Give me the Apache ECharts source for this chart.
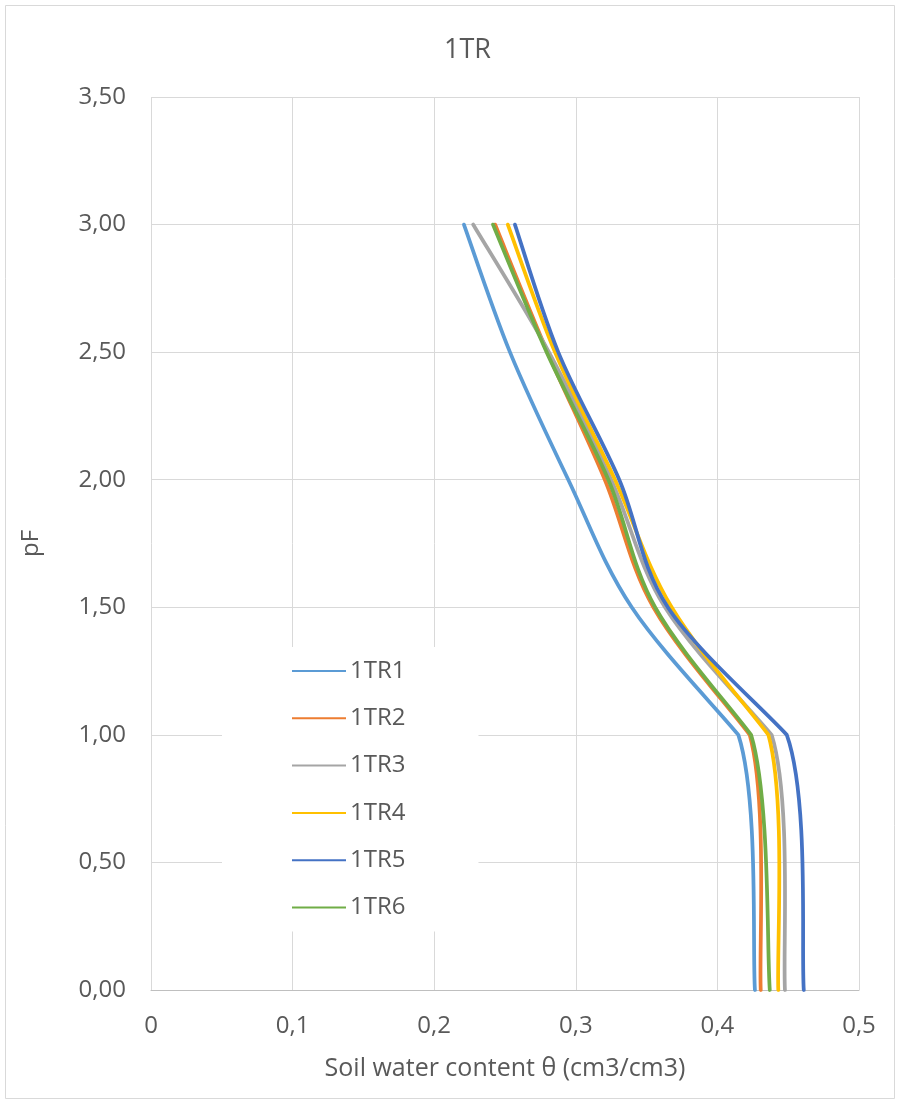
<!DOCTYPE html>
<html>
<head>
<meta charset="utf-8">
<script src="https://cdn.jsdelivr.net/npm/echarts@6/dist/echarts.min.js"></script>
<style>
html,body{margin:0;padding:0;background:#fff;}
#chart{width:899px;height:1104px;}
</style>
</head>
<body>
<div id="chart"></div>
<script>
// pF levels (y values)
const pF = [0, 1.0, 1.5, 2.0, 2.5, 3.0];
// Soil water content per series (x values), one per pF level
const s1TR1 = [0.4265, 0.4148, 0.3395, 0.2947, 0.2535, 0.2210];
const s1TR2 = [0.4306, 0.4228, 0.3548, 0.3205, 0.2800, 0.2430];
const s1TR3 = [0.4477, 0.4383, 0.3630, 0.3250, 0.2810, 0.2275];
const s1TR4 = [0.4430, 0.4360, 0.3677, 0.3277, 0.2853, 0.2520];
const s1TR5 = [0.4610, 0.4490, 0.3650, 0.3307, 0.2876, 0.2570];
const s1TR6 = [0.4370, 0.4238, 0.3560, 0.3230, 0.2794, 0.2415];
const seriesNames = ['1TR1', '1TR2', '1TR3', '1TR4', '1TR5', '1TR6'];
const seriesValues = [s1TR1, s1TR2, s1TR3, s1TR4, s1TR5, s1TR6];
const colors = ['#5B9BD5', '#ED7D31', '#A5A5A5', '#FFC000', '#4472C4', '#70AD47'];

const FONT = '"Open Sans", "Noto Sans", sans-serif';
const TXT = '#595959';

const chart = echarts.init(document.getElementById('chart'), null, {renderer: 'canvas'});

// Smoothed path through the data points (pixel positions from the axes via api.coord).
function buildPath(pts) {
  const n = pts.length;
  const sub = (a, b) => [a[0] - b[0], a[1] - b[1]];
  const add = (a, b) => [a[0] + b[0], a[1] + b[1]];
  const mul = (a, k) => [a[0] * k, a[1] * k];
  const outT = [], inT = [];
  for (let i = 0; i < n; i++) {
    const prev = pts[Math.max(0, i - 1)], next = pts[Math.min(n - 1, i + 1)];
    const t = mul(sub(next, prev), 1 / 6);
    inT[i] = t; outT[i] = t;
  }
  // break at the first wet-end measurement: leave it along the chord
  if (n > 2) outT[1] = mul(sub(pts[2], pts[1]), 1 / 4);
  let d = 'M' + pts[0][0] + ' ' + pts[0][1];
  for (let i = 0; i < n - 1; i++) {
    const c1 = add(pts[i], outT[i]);
    const c2 = sub(pts[i + 1], inT[i + 1]);
    d += ' C' + c1[0] + ' ' + c1[1] + ' ' + c2[0] + ' ' + c2[1] + ' ' + pts[i + 1][0] + ' ' + pts[i + 1][1];
  }
  return d;
}

const series = seriesNames.map((name, i) => ({
  name: name,
  type: 'custom',
  coordinateSystem: 'cartesian2d',
  data: seriesValues[i].map((v, k) => [v, pF[k]]),
  encode: {x: 0, y: 1},
  itemStyle: {color: colors[i]},
  silent: true,
  renderItem: function (params, api) {
    if (params.dataIndex !== 0) return null;
    const vals = seriesValues[params.seriesIndex];
    const pts = vals.map((v, k) => api.coord([v, pF[k]]));
    return {
      type: 'path',
      shape: {pathData: buildPath(pts)},
      style: {fill: 'none', stroke: colors[params.seriesIndex], lineWidth: 3.75, lineCap: 'round', lineJoin: 'round'}
    };
  }
}));

chart.setOption({
  animation: false,
  backgroundColor: '#ffffff',
  title: {
    text: '1TR',
    left: 439,
    top: 32,
    textStyle: {fontFamily: FONT, fontSize: 27, fontWeight: 'normal', color: TXT}
  },
  graphic: [{
    type: 'rect',
    shape: {x: 5.5, y: 5.5, width: 889, height: 1093},
    style: {fill: 'none', stroke: '#D9D9D9', lineWidth: 1},
    silent: true,
    z: -1
  }],
  grid: {left: 151, top: 97, width: 708, height: 893, containLabel: false},
  legend: {
    orient: 'vertical',
    left: 222,
    top: 647,
    padding: [12, 73, 12, 70],
    backgroundColor: '#ffffff',
    itemWidth: 54,
    itemHeight: 24,
    itemGap: 23.3,
    icon: 'path://M0,11 L54,11 L54,13 L0,13 Z',
    data: seriesNames.map((n, i) => ({name: n, itemStyle: {color: colors[i]}})),
    textStyle: {fontFamily: FONT, fontSize: 24, color: TXT, lineHeight: 24, padding: [0, 0, 0, -1]},
    selectedMode: false
  },
  xAxis: {
    type: 'value',
    min: 0,
    max: 0.5,
    interval: 0.1,
    name: 'Soil water content \u03B8 (cm3/cm3)',
    nameLocation: 'middle',
    nameGap: 66,
    nameTextStyle: {fontFamily: FONT, fontSize: 25, color: TXT},
    axisLine: {show: true, lineStyle: {color: '#BFBFBF', width: 1}},
    axisTick: {show: false},
    axisLabel: {
      fontFamily: FONT, fontSize: 24, color: TXT, margin: 24,
      formatter: v => (Math.round(v * 10) / 10).toString().replace('.', ',')
    },
    splitLine: {show: true, lineStyle: {color: '#D9D9D9', width: 1}}
  },
  yAxis: {
    type: 'value',
    min: 0,
    max: 3.5,
    interval: 0.5,
    name: 'pF',
    nameLocation: 'middle',
    nameRotate: 90,
    nameGap: 108,
    nameTextStyle: {fontFamily: FONT, fontSize: 24, color: TXT},
    axisLine: {show: false},
    axisTick: {show: false},
    axisLabel: {
      fontFamily: FONT, fontSize: 24, color: TXT, margin: 25,
      formatter: v => v.toFixed(2).replace('.', ',')
    },
    splitLine: {show: true, lineStyle: {color: '#D9D9D9', width: 1}}
  },
  series: series
});
</script>
</body>
</html>
